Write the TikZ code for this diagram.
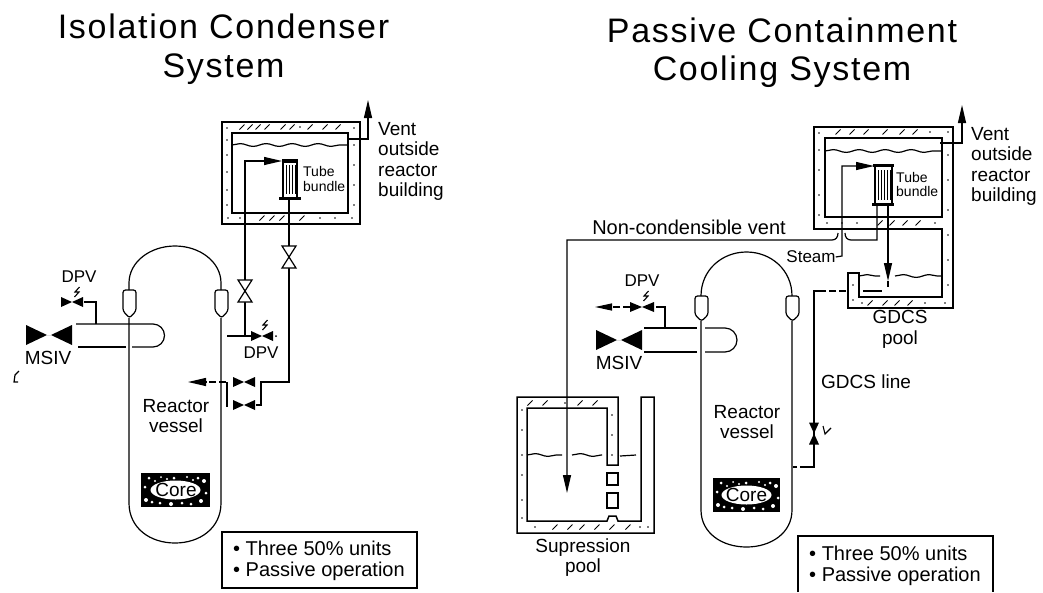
\documentclass[tikz,border=0pt]{standalone}
\usepackage{fontspec}
\setmainfont{Liberation Sans}
\newfontfamily\ttlfont[LetterSpace=5]{Liberation Sans}
\usetikzlibrary{arrows.meta,decorations.pathmorphing}
\tikzset{
  ln/.style={line width=1.2pt,black},
  wall/.style={line width=1.5pt,black,line join=miter},
  water/.style={line width=1.2pt,decorate,decoration={snake,amplitude=1.4pt,segment length=26pt}},
  head/.style={-{Triangle[length=18pt,width=8pt]}},
  dashln/.style={ln,dash pattern=on 7pt off 3pt},
  lbl/.style={inner sep=0pt,align=center,font=\fontsize{19}{20.5}\selectfont},
  lblL/.style={inner sep=0pt,align=left,font=\fontsize{19}{20.5}\selectfont},
  lblS/.style={inner sep=0pt,align=center,font=\fontsize{17}{17}\selectfont},
  ttl/.style={inner sep=0pt,align=center,font=\ttlfont\fontsize{34}{38.5}\selectfont},
  small/.style={inner sep=0pt,align=left,anchor=west,font=\fontsize{14}{14.5}\selectfont},
  infobox/.style={wall},
  bowfill/.pic={\fill (-#1,-5)--(0,0)--(#1,-5)--(#1,5)--(0,0)--(-#1,5)--cycle;},
  bowbig/.pic={\fill (-23,-10)--(-2,0)--(2,0)--(23,-10)--(23,10)--(2,0)--(-2,0)--(-23,10)--cycle;},
  bowopen/.pic={\draw[ln,fill=white] (-7,-11)--(7,-11)--(-7,11)--(7,11)--cycle;},
  bowchk/.pic={\fill (-5,-11)--(5,-11)--(0,0)--(5,11)--(-5,11)--(0,0)--cycle;},
  bolt/.pic={\draw[line width=1.1pt] (2.5,-5)--(-2,0)--(2,0)--(-2.5,5);},
  nozzle/.pic={\draw[ln,rounded corners=2.5pt] (-6.5,0) -- (-6.5,21) -- (0,28) -- (6.5,21) -- (6.5,0) -- cycle;},
}
\newcommand{\specks}[1]{\foreach \px/\py in {#1}{\fill (\px,\py) circle (0.9pt);}}
\newcommand{\slashes}[1]{\foreach \px/\py in {#1}{\draw[line width=1pt] (\px-2.5,\py+2.5)--(\px+2.5,\py-2.5);}}
\newcommand{\coreblock}[4]{%
  \fill (#1,#2) rectangle (#3,#4);
  \fill[white] ({(#1+#3)/2},{(#2+#4)/2}) ellipse (25pt and 9.5pt);
  \foreach \dx/\dy/\r in {5/27/2,11/29/1.5,19/30/1.5,30/31/2,41/30/1.5,50/31/1.5,60/28/2,63/8/2,8/5/1.5,20/4/1,33/5/1.5,46/4/1.2,57/5/1.5,4/14/1.5,65/20/1.5,14/8/1.2,52/7/1.2,26/6/1.2}{\fill[white] (#1+\dx,#2+\dy) circle (\r pt);}
}
\begin{document}
\begin{tikzpicture}[x=1pt,y=-1pt]
\useasboundingbox (0,0) rectangle (1043,592);
\fill[white] (0,0) rectangle (1043,592);

% ---------- LEFT ----------
\node[ttl] (tl) at (223.5,49) {Isolation Condenser\\System};

% vessel
\draw[ln] (129,290) -- (129,283) .. controls (129,262) and (150,246) .. (175,246) .. controls (200,246) and (221,262) .. (221,283) -- (221,290);
\draw[ln] (129,318) -- (129,503) .. controls (129,528) and (150,543) .. (175,543) .. controls (200,543) and (221,528) .. (221,503) -- (221,318);
\pic at (129.5,290) {nozzle};
\pic at (221.5,290) {nozzle};

% main steam line
\coordinate (lpu) at (76,324); \coordinate (lpl) at (78,347);
\draw[ln] (lpu) -- (153,324) arc (-90:90:11.5 and 11.5) -- (132,347);
\draw[ln] (126,347) -- (lpl);
\pic at (49,335) {bowbig};
\node[lbl] (lmsiv) at (48,358) {MSIV};
\draw[ln] (96,324) -- (96,302) -- (84,302);
\pic at (72,302) {bowfill=11};
\pic at (77,292) {bolt};
\node[lblS] (ldpv1) at (79,277) {DPV};

% isolation pool
\draw[wall] (222,122) rectangle (360,224);
\draw[wall] (232,133) rectangle (348,213);
\draw[water] (232,145) -- (348,145);
\slashes{242/127,250/127,258/127,267/127,283/127,292/127,310/127,325/127,338/127,262/218,272/218,282/218,302/218}
\specks{227/128,227/140,227/155,227/172,227/190,227/205,228/218,354/128,354/145,354/165,354/185,354/205,352/218,240/218,320/218,335/218,300/127}

% tube bundle
\fill (282,159) rectangle (298,163);
\fill (279,197) rectangle (301,200);
\draw[ln] (283,161) -- (283,198);
\draw[ln] (297,161) -- (297,198);
\foreach \tx in {286,289,292,295}{\draw[line width=0.8pt] (\tx,165) -- (\tx,194);}
\node[small] (ltb) at (303,179) {Tube\\bundle};

% steam pipe to bundle
\coordinate (lsa) at (227,336);
\coordinate (lst) at (282,161);
\draw[ln,head] (lsa) -- (245,336) -- (245,161) -- (lst);
\pic at (245,291) {bowopen};
\draw[ln] (245,336) -- (251,336);
\pic at (262,336) {bowfill=11};
\pic at (265,325) {bolt};
\fill (276,336) circle (1pt);
\node[lblS] (ldpv2) at (261,353) {DPV};

% condensate return
\coordinate (lbb) at (289,200);
\draw[ln] (lbb) -- (289,382) -- (261,382) -- (261,405) -- (256,405);
\pic at (289,257) {bowopen};
\draw[ln] (227,382) -- (227,407);
\pic at (244,382) {bowfill=11};
\pic at (244,405) {bowfill=11};
\draw[dashln,head] (226,382) -- (188,382);

% vent
\coordinate (lvs) at (347,139); \coordinate (lvt) at (368,100);
\draw[ln,head] (lvs) -- (368,139) -- (lvt);
\node[lblL,anchor=north west] (lvl) at (378,122) {Vent\\outside\\reactor\\building};

\node[lbl] (lrv) at (176,416) {Reactor\\vessel};
\coreblock{141}{473}{210}{507}
\node[lbl] (lcore) at (176,490) {Core};

% info box
\draw[infobox] (222,532) rectangle (417,588);
\node[lblL,anchor=west,font=\fontsize{20}{21}\selectfont] (lbox) at (233,560.5) {• Three 50\% units\\• Passive operation};

% stray mark
\draw[line width=1.2pt] (19,371) -- (15,375) -- (14,382) -- (18,382);

% ---------- RIGHT ----------
\node[ttl] (tr) at (782,52.5) {Passive Containment\\Cooling System};

% vessel
\draw[ln] (701,296) .. controls (701,270) and (722,252) .. (746.5,252) .. controls (771,252) and (792,270) .. (792,296);
\draw[ln] (701,321) -- (701,510) .. controls (701,533) and (722,547) .. (746.5,547) .. controls (771,547) and (792,533) .. (792,510) -- (792,321);
\pic[yscale=0.9] at (701.5,296) {nozzle};
\pic[yscale=0.9] at (792.5,296) {nozzle};

% main steam line
\draw[ln] (644,328) -- (697,328);
\draw[ln] (705,328) -- (725,328) arc (-90:90:12) -- (705,352);
\draw[ln] (697,352) -- (644,352);
\pic at (619,340) {bowbig};
\node[lbl] (rmsiv) at (619,363) {MSIV};
\draw[ln] (665,328) -- (665,307) -- (656,307);
\pic at (642,307) {bowfill=12};
\pic at (646,296) {bolt};
\node[lblS] (rdpv) at (642,281) {DPV};
\draw[dashln,-{Triangle[length=17pt,width=7pt]}] (630,307) -- (595,307);

% upper pool + GDCS
\draw[wall] (814,127) -- (953,127) -- (953,308) -- (848,308) -- (848,273) -- (859,273) -- (859,297) -- (942,297) -- (942,229) -- (814,229) -- cycle;
\draw[wall] (825,138) rectangle (942,217);
\draw[water] (825,151) -- (942,151);
\draw[water] (859,276) -- (880,276);
\draw[water] (895,276) -- (942,276);
\slashes{838/132,852/132,866/132,885/132,902/132,915/132,880/223,892/223,905/223,918/223,870/303,885/303,897/303,910/303}
\specks{819/133,819/150,819/170,819/195,819/215,827/223,842/223,857/223,935/223,948/132,948/155,948/180,948/210,948/235,948/260,948/285,853/285,853/300,862/303,925/303,945/303,930/132}
\fill (863,290) rectangle (882,292);

% tube bundle
\fill (873,164) rectangle (894,167);
\fill (872,203) rectangle (894,206);
\draw[ln] (875,166) -- (875,204);
\draw[ln] (892,166) -- (892,204);
\foreach \tx in {878,881,884,887,890}{\draw[line width=0.8pt] (\tx,170) -- (\tx,200);}
\node[small] (rtb) at (896,184.5) {Tube\\bundle};

% steam
\node[lblS] (rst) at (811,257) {Steam};
\coordinate (rbt) at (874,166);
\draw[ln,head] (rst.east) -- (842,256) -- (842,166) -- (rbt);

% non-condensible vent
\node[lbl,font=\fontsize{20}{20}\selectfont] (rnc) at (689,227) {Non-condensible vent};
\coordinate (rnb) at (877,206);
\coordinate (rsp) at (567,493);
\draw[ln] (rnb) -- (877,240) -- (851,240) .. controls (847,240) and (845,237) .. (845,233);
\draw[ln,head] (838,233) .. controls (838,237) and (836,240) .. (832,240) -- (567,240) -- (rsp);

% return to GDCS
\coordinate (rcb) at (888,206);
\draw[ln,head] (rcb) -- (888,281);
\draw[ln] (888,281) -- (888,287);

% GDCS line
\coordinate (rgs) at (846,291); \coordinate (rgv) at (793,467);
\draw[dashln] (rgs) -- (824,291);
\draw[ln] (824,291) -- (814,291) -- (814,467) -- (807,467);
\draw[dashln] (807,467) -- (rgv);
\pic at (814,433.5) {bowchk};
\draw[line width=1.1pt] (823,426) -- (825,434) -- (831,428);
\node[lblL,anchor=west] (rgl) at (821,382) {GDCS line};
\node[lbl] (rgp) at (900,329.5) {GDCS\\pool};

% vent
\coordinate (rvs) at (940,143); \coordinate (rvt) at (962,105);
\draw[ln,head] (rvs) -- (962,143) -- (rvt);
\node[lblL,anchor=north west] (rvl) at (971,127) {Vent\\outside\\reactor\\building};

% suppression pool
\draw[wall] (517,397) -- (618,397) -- (618,465) -- (607,465) -- (607,408) -- (527,408) -- (527,521) -- (607,521) -- (609,516) -- (616,516) -- (618,521) -- (641,521) -- (641,397) -- (654,397) -- (654,533) -- (517,533) -- cycle;
\draw[wall] (607,473) rectangle (618,485);
\draw[wall] (607,493) rectangle (618,508);
\draw[water] (527,455) -- (562,455);
\draw[water] (572,455) -- (602,455);
\draw[line width=1.2pt] (620,456) -- (636,455);
\slashes{530/403,545/403,580/403,595/403,555/527,570/527,582/527,597/527,612/527,628/527}
\specks{522/410,522/430,522/455,522/475,522/500,522/518,535/527,565/403,612/415,612/435,612/455,640/527,648/527}

\node[lbl] (rsup) at (583,557.5) {Supression\\pool};
\node[lbl] (rrv) at (747,422) {Reactor\\vessel};
\coreblock{713}{478}{780}{512}
\node[lbl] (rcore) at (746.5,495) {Core};

% info box (runs off the page)
\draw[infobox] (798,592) -- (798,536) -- (993,536) -- (993,592);
\node[lblL,anchor=west,font=\fontsize{20}{21}\selectfont] (rbox) at (809,566) {• Three 50\% units\\• Passive operation};
\end{tikzpicture}
\end{document}
